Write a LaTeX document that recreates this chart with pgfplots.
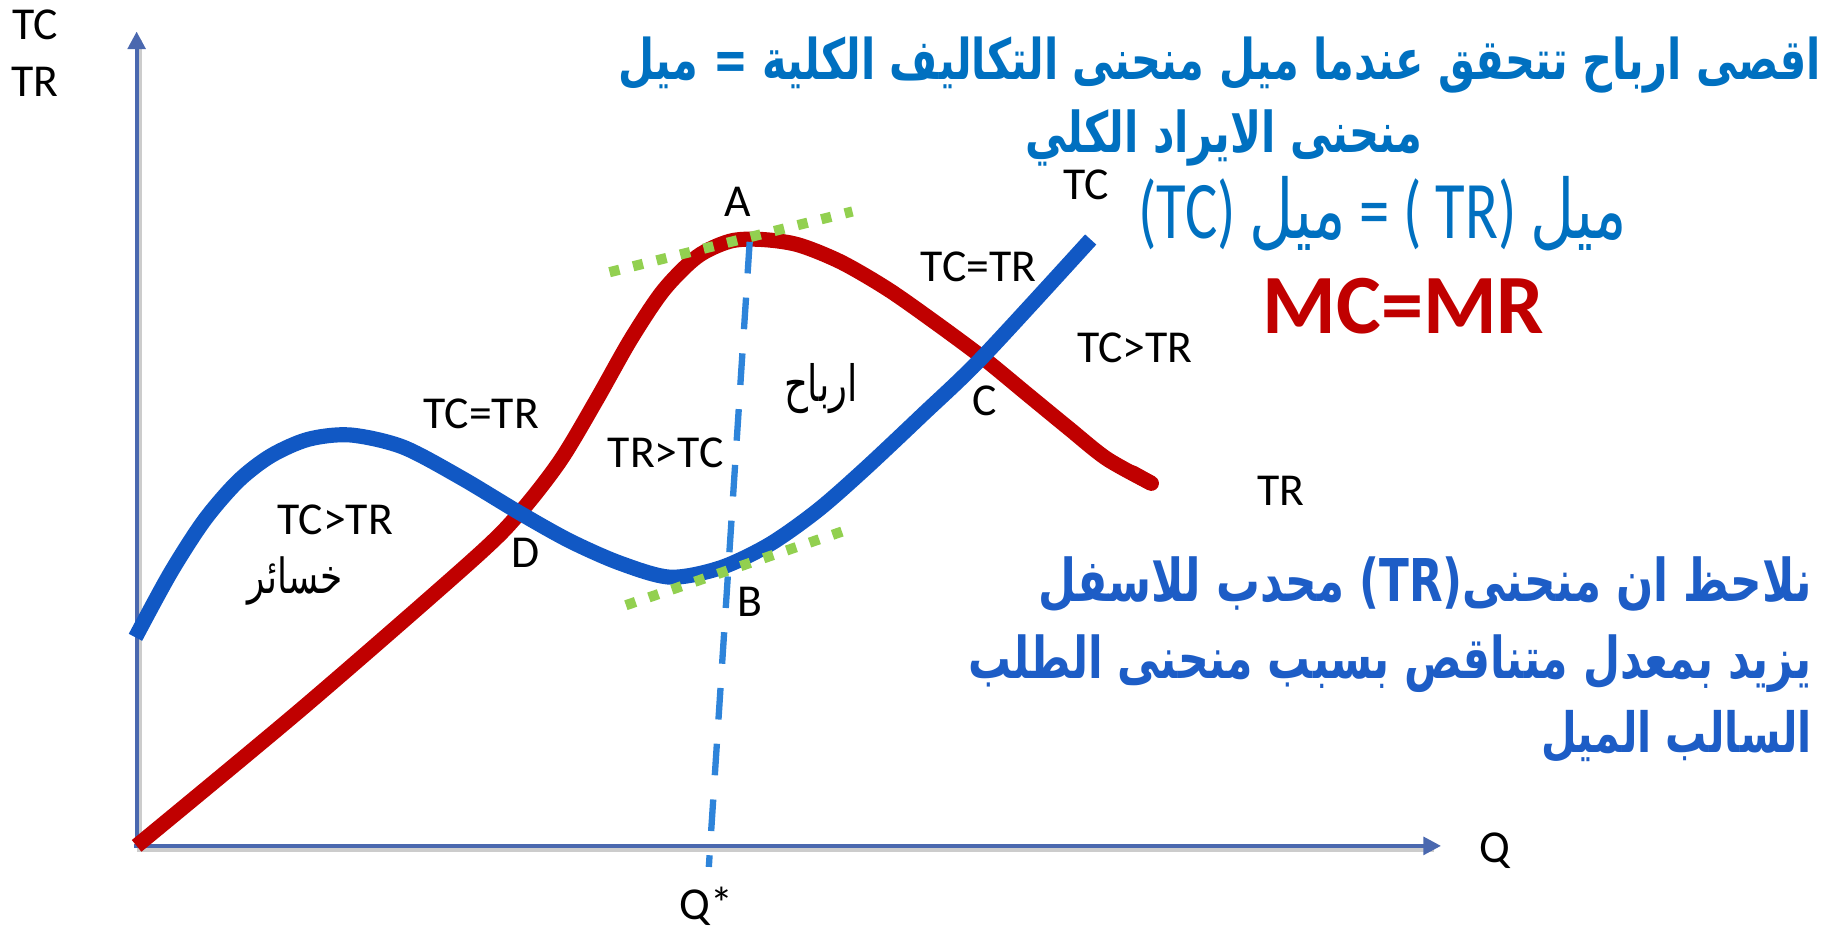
\documentclass[border=0pt]{standalone}
\usepackage{fontspec}
\setmainfont{Carlito}
\newfontfamily\arabicfont[Script=Arabic]{DejaVu Sans}
\usepackage{pgfplots}
\pgfplotsset{compat=1.18}
\usetikzlibrary{arrows.meta}
\TeXXeTstate=1

\definecolor{trred}{HTML}{C00000}
\definecolor{tcblue}{HTML}{1158C4}
\definecolor{qblue}{HTML}{2E84DA}
\definecolor{tangent}{HTML}{92D050}
\definecolor{axisblue}{HTML}{4A68AF}
\definecolor{noteblue}{HTML}{0070C0}
\definecolor{noteblueb}{HTML}{1D5DC6}

\tikzset{lbl/.style={font=\fontsize{13}{15}\selectfont, inner sep=0pt, text=black}}
\newcommand{\tall}[1]{\scalebox{1}[1.35]{#1}}

\begin{document}
\begin{tikzpicture}
\begin{axis}[
  scale only axis, width=18.31cm, height=9.30cm,
  xmin=0, xmax=1568, ymin=0, ymax=796, y dir=reverse,
  hide axis, clip=false,
]
\path (rel axis cs:0,0) rectangle (rel axis cs:1,1);

% axes
\addplot[black!20, line width=1.6pt] coordinates {(119.5,726) (119.5,34)};
\addplot[black!20, line width=1.6pt] coordinates {(117,726.5) (1228,726.5)};
\addplot[axisblue, line width=1.1pt, -{Triangle[length=5pt,width=5pt]}]
  coordinates {(117,726) (117,27)};
\addplot[axisblue, line width=1.1pt, -{Triangle[length=5pt,width=5pt]}]
  coordinates {(115,724) (1234,724)};

% TR (red) and TC (blue)
\addplot[trred, line width=4.3pt, smooth] coordinates {
  (117,724) (260,605.3) (405,479) (445,439) (480,394) (511,342)
  (540,290.7) (568,248.7) (597,219.7) (625,206.5) (651,204.9) (683,209.4)
  (720,224.2) (760,247.4) (800,275.4) (842,306.5) (880,337.7) (915,366.4)
  (948,392.8) (986,413.7)};
\addplot[trred, line width=4.3pt, line cap=round] coordinates {(970,404.8) (986,413.7)};
\addplot[tcblue, line width=4.3pt, smooth] coordinates {
  (116,545.5) (146,490.3) (175,445.3) (204,411.7) (232,390.1) (264,376)
  (300,372.3) (345,382.6) (395,409) (445,439) (488,463) (531,482)
  (574,494) (617,486) (659,466) (700,437) (740,402) (790,355) (842,305)
  (934,205)};

% Q* line
\addplot[qblue, line width=1.8pt, dash pattern=on 9pt off 6.9pt]
  coordinates {(642,207) (607,742)};

% tangents at A and B
\addplot[tangent, line width=2.9pt, dash pattern=on 2.9pt off 4pt]
  coordinates {(522,233) (730,181)};
\addplot[tangent, line width=2.9pt, dash pattern=on 2.9pt off 4pt]
  coordinates {(536,518) (721,455)};

% labels
\node[lbl] at (axis cs:30,21) {TC};
\node[lbl] at (axis cs:30,70) {TR};
\node[lbl] at (axis cs:632,173) {A};
\node[lbl] at (axis cs:930,158) {TC};
\node[lbl] at (axis cs:838,228) {TC=TR};
\node[lbl] at (axis cs:972,298) {TC>TR};
\node[lbl] at (axis cs:843,343) {C};
\node[lbl] at (axis cs:412,354) {TC=TR};
\node[lbl] at (axis cs:570,388) {TR>TC};
\node[lbl] at (axis cs:287,445) {TC>TR};
\node[lbl] at (axis cs:450,473) {D};
\node[lbl] at (axis cs:642,515) {B};
\node[lbl] at (axis cs:1097,420) {TR};
\node[lbl] at (axis cs:1280,728) {Q};
\node[lbl] at (axis cs:605,776) {Q*};
\node[lbl] at (axis cs:703,333) {\resizebox{21pt}{!}{\tall{\arabicfont ارباح}}};
\node[lbl] at (axis cs:253,497) {\resizebox{27pt}{!}{\tall{\arabicfont خسائر}}};

% notes
\node[inner sep=0pt, anchor=east, text=noteblue] at (axis cs:1560,56)
  {\resizebox{342pt}{!}{\tall{\arabicfont\bfseries\beginR اقصى ارباح تتحقق عندما ميل منحنى التكاليف الكلية = ميل\endR}}};
\node[inner sep=0pt, text=noteblue] at (axis cs:1048,118)
  {\resizebox{113pt}{!}{\tall{\arabicfont\bfseries\beginR منحنى الايراد الكلي\endR}}};
\node[inner sep=0pt, text=noteblue] at (axis cs:1184,183)
  {\resizebox{139pt}{!}{\tall{(TC) {\arabicfont ميل} = ( TR) {\arabicfont ميل}}}};
\node[inner sep=0pt, text=trred, font=\fontsize{24}{28}\selectfont\bfseries] at (axis cs:1202,262) {MC=MR};

\node[inner sep=0pt, anchor=east, text=noteblueb] at (axis cs:1552,500)
  {\resizebox{220pt}{!}{\tall{\arabicfont\bfseries\beginR نلاحظ ان منحنى\beginL(TR)\endL{} محدب للاسفل\endR}}};
\node[inner sep=0pt, anchor=east, text=noteblueb] at (axis cs:1552,568)
  {\resizebox{240pt}{!}{\tall{\arabicfont\bfseries\beginR يزيد بمعدل متناقص بسبب منحنى الطلب\endR}}};
\node[inner sep=0pt, anchor=east, text=noteblueb] at (axis cs:1552,630)
  {\resizebox{77pt}{!}{\tall{\arabicfont\bfseries\beginR السالب الميل\endR}}};
\end{axis}
\end{tikzpicture}
\end{document}
